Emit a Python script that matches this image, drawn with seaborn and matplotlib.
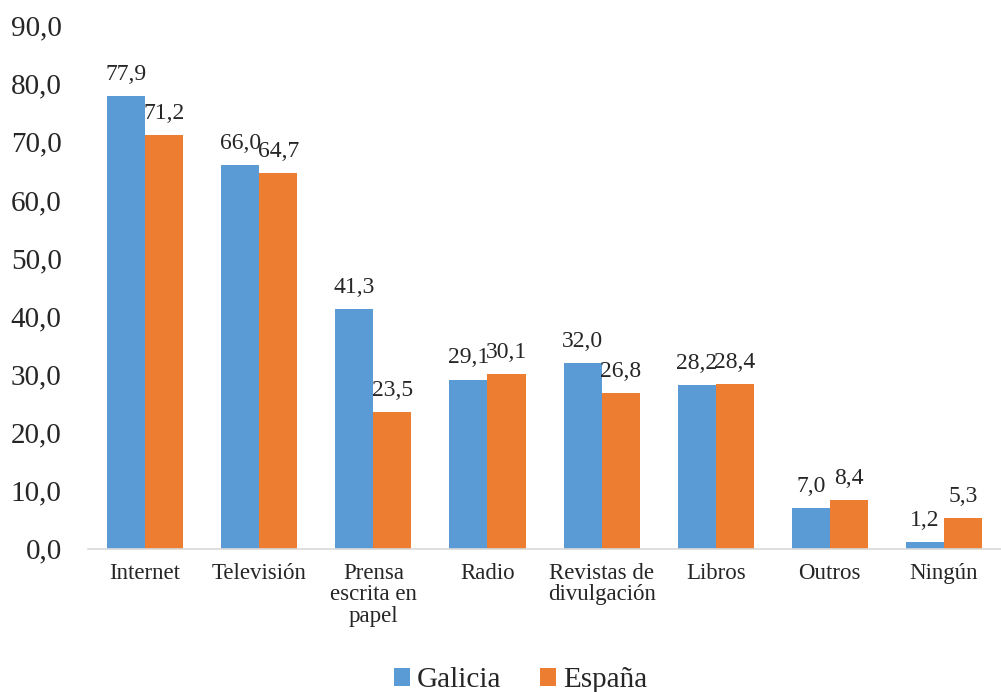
import matplotlib
matplotlib.use("Agg")
import matplotlib.pyplot as plt
import matplotlib.ticker as ticker
import seaborn as sns
import pandas as pd

categorias = ["Internet", "Televisión", "Prensa\nescrita en\npapel", "Radio",
              "Revistas de\ndivulgación", "Libros", "Outros", "Ningún"]
galicia = [77.9, 66.0, 41.3, 29.1, 32.0, 28.2, 7.0, 1.2]
espana = [71.2, 64.7, 23.5, 30.1, 26.8, 28.4, 8.4, 5.3]
series = ["Galicia", "España"]
colores = ["#5B9BD5", "#ED7D31"]

df = pd.DataFrame({
    "categoria": categorias * 2,
    "valor": galicia + espana,
    "serie": [series[0]] * len(categorias) + [series[1]] * len(categorias),
})

sns.set_style("white")
plt.rcParams["font.family"] = ["Liberation Serif", "DejaVu Serif"]

fig = plt.figure(figsize=(10.01, 6.92), dpi=100)
ax = fig.add_axes([0.088, 0.207, 0.912, 0.756])

sns.barplot(data=df, x="categoria", y="valor", hue="serie", palette=colores,
            width=0.667, saturation=1, linewidth=0, ax=ax, legend=True)

for cont in ax.containers:
    ax.bar_label(cont, labels=[f"{v:.1f}".replace(".", ",") for v in cont.datavalues],
                 padding=8, fontsize=17)

ax.set_ylim(0, 90)
ax.set_xlim(-0.5, len(categorias) - 0.5)
ax.yaxis.set_major_locator(ticker.MultipleLocator(10))
ax.yaxis.set_major_formatter(ticker.FuncFormatter(lambda x, _: f"{x:.1f}".replace(".", ",")))
ax.tick_params(axis="y", labelsize=21, length=0, pad=19)
ax.tick_params(axis="x", labelsize=16.5, length=0, pad=10)
for lbl in ax.get_xticklabels():
    lbl.set_linespacing(1.05)
ax.set_xlabel("")
ax.set_ylabel("")
for s in ["top", "right", "left"]:
    ax.spines[s].set_visible(False)
ax.spines["bottom"].set_color("#D9D9D9")
ax.spines["bottom"].set_linewidth(1.2)

handles, labels = ax.get_legend_handles_labels()
ax.get_legend().remove()
fig.legend(handles, labels, loc="lower center", bbox_to_anchor=(0.52, -0.04), ncol=2,
           frameon=False, fontsize=21, handlelength=0.55, handleheight=0.55,
           handletextpad=0.25, columnspacing=1.3)

fig.savefig("out.png", dpi=100)
